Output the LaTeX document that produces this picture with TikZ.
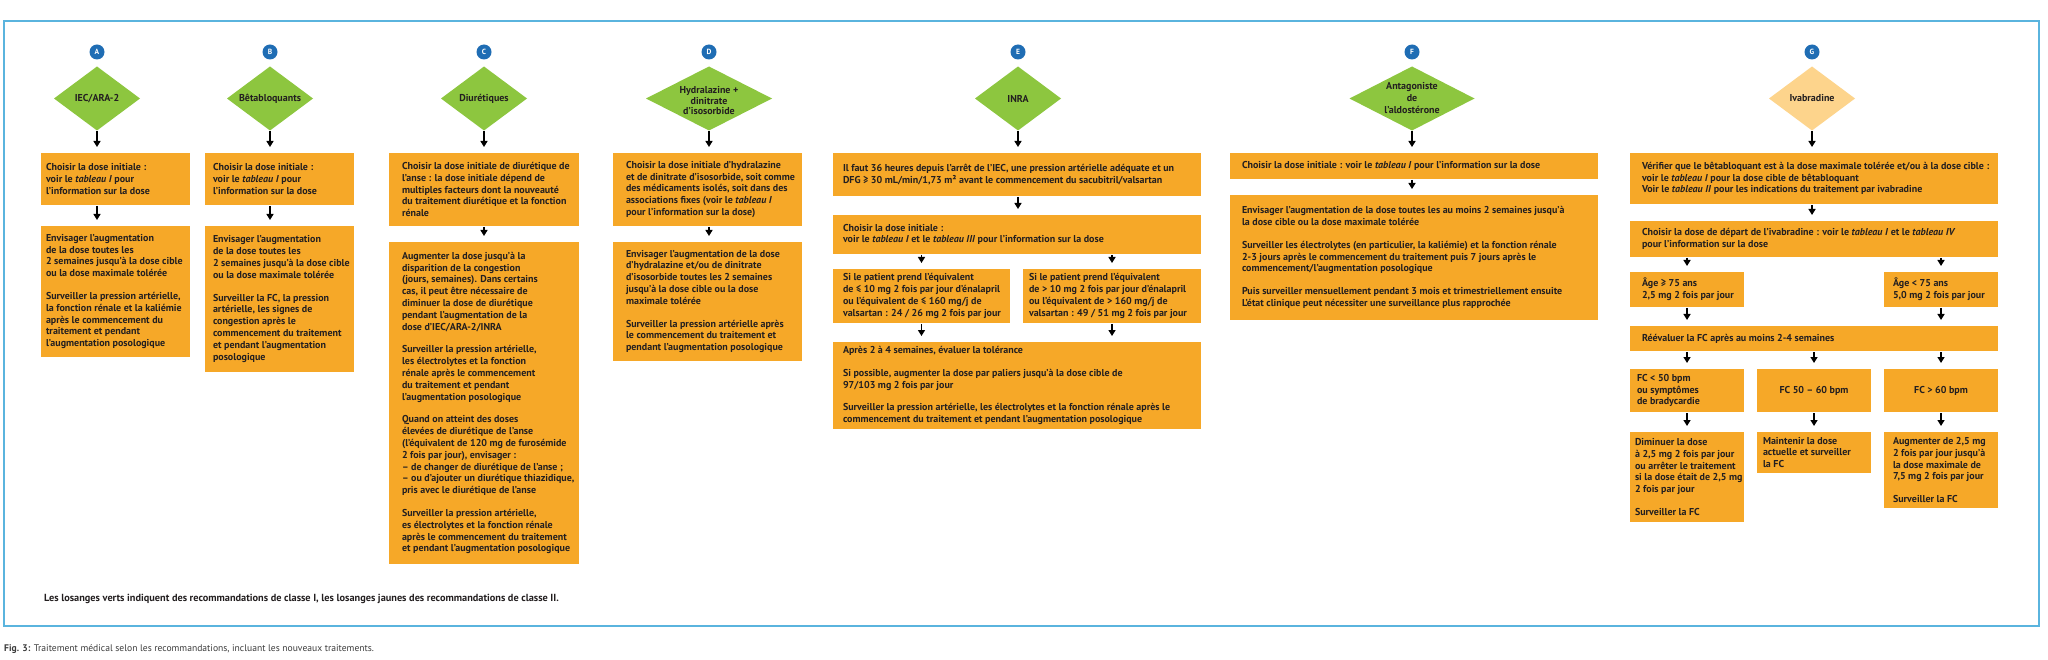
\documentclass[tikz,border=0pt]{standalone}
\usepackage{fontspec}
\setmainfont{PT Sans}
\usetikzlibrary{shapes.geometric,arrows.meta}
\definecolor{boxorange}{HTML}{F6A828}
\definecolor{diagreen}{HTML}{8DC63F}
\definecolor{diayellow}{HTML}{FDD48C}
\definecolor{circblue}{HTML}{1F6DB4}
\definecolor{framblue}{HTML}{5AB4DE}
\definecolor{txtdark}{HTML}{231F20}
\definecolor{capgrey}{HTML}{3C3C3C}
\newcommand{\bodyf}{\bfseries\fontsize{10pt}{11.8pt}\selectfont}
\newcommand{\pgap}{\\[11pt]}
\newcommand{\obox}[7]{%
  \node[obox, minimum width=#4pt, minimum height=#5pt, anchor=north west] (#1) at (#2,#3) {};
  \node[otxt, anchor=west] (#1t) at ([xshift=#6pt]#1.west) {#7};}
\newcommand{\cobox}[6]{%
  \node[obox, minimum width=#4pt, minimum height=#5pt, anchor=north west] (#1) at (#2,#3) {};
  \node[otxt, align=center] (#1t) at (#1.center) {#6};}
\begin{document}
\begin{tikzpicture}[x=1pt,y=-1pt,
  obox/.style={rectangle, fill=boxorange, draw=none, inner sep=0pt, outer sep=0pt},
  otxt/.style={inner sep=0pt, outer sep=0pt, align=left, font=\bodyf, text=txtdark},
  dia/.style={diamond, inner sep=0pt, outer sep=0pt, fill=diagreen, minimum width=86pt, minimum height=64pt},
  dtxt/.style={inner sep=0pt, align=center, font=\bodyf, text=txtdark},
  circ/.style={circle, fill=circblue, minimum size=15pt, inner sep=0pt, text=white, font=\bfseries\fontsize{7.5pt}{8pt}\selectfont},
  arr/.style={draw=black, line width=1.4pt, -{Triangle[width=7pt,length=6pt]}, shorten >=6pt, shorten <=1pt}]
\useasboundingbox (0,0) rectangle (2048,660);
\fill[white] (0,0) rectangle (2048,660);
\draw[framblue, line width=1.5pt] (4,21) rectangle (2039,626);

% ---------- circles and diamonds ----------
\node[circ] (cA) at (97,52) {A};
\node[circ] (cB) at (270,52) {B};
\node[circ] (cC) at (484,52) {C};
\node[circ] (cD) at (709,52) {D};
\node[circ] (cE) at (1018,52) {E};
\node[circ] (cF) at (1412,52) {F};
\node[circ] (cG) at (1812,52) {G};

\node[dia] (dA) at (97,98.5) {};
\node[dtxt] (dAt) at (dA) {IEC/ARA-2};
\node[dia] (dB) at (270,98.5) {};
\node[dtxt] (dBt) at (dB) {Bêtabloquants};
\node[dia] (dC) at (484,98.5) {};
\node[dtxt] (dCt) at (dC) {Diurétiques};
\node[dia, minimum width=126pt] (dD) at (709,98.5) {};
\node[dtxt, font=\bfseries\fontsize{10pt}{10.5pt}\selectfont] (dDt) at (709,101) {Hydralazine +\\dinitrate\\d'isosorbide};
\node[dia] (dE) at (1018,98.5) {};
\node[dtxt] (dEt) at (dE) {INRA};
\node[dia, minimum width=125pt] (dF) at (1412,98.5) {};
\node[dtxt, font=\bfseries\fontsize{10pt}{12pt}\selectfont] (dFt) at (dF) {Antagoniste\\de\\l'aldostérone};
\node[dia, fill=diayellow] (dG) at (1812,98.5) {};
\node[dtxt] (dGt) at (dG) {Ivabradine};

% ---------- column A ----------
\obox{a1}{41}{153}{149}{52}{5}{Choisir la dose initiale :\\voir le \textit{tableau I} pour\\l'information sur la dose}
\obox{a2}{41}{226}{149}{131}{5}{Envisager l'augmentation\\de la dose toutes les\\2 semaines jusqu'à la dose cible\\ou la dose maximale tolérée\pgap Surveiller la pression artérielle,\\la fonction rénale et la kaliémie\\après le commencement du\\traitement et pendant\\l'augmentation posologique}

% ---------- column B ----------
\obox{b1}{205}{153}{149}{52}{8}{Choisir la dose initiale :\\voir le \textit{tableau I} pour\\l'information sur la dose}
\obox{b2}{205}{226}{149}{146}{8}{Envisager l'augmentation\\de la dose toutes les\\2 semaines jusqu'à la dose cible\\ou la dose maximale tolérée\pgap Surveiller la FC, la pression\\artérielle, les signes de\\congestion après le\\commencement du traitement\\et pendant l'augmentation\\posologique}

% ---------- column C ----------
\obox{c1}{389}{153}{190}{73}{13}{Choisir la dose initiale de diurétique de\\l'anse : la dose initiale dépend de\\multiples facteurs dont la nouveauté\\du traitement diurétique et la fonction\\rénale}
\obox{c2}{389}{242}{190}{322}{13}{Augmenter la dose jusqu'à la\\disparition de la congestion\\(jours, semaines). Dans certains\\cas, il peut être nécessaire de\\diminuer la dose de diurétique\\pendant l'augmentation de la\\dose d'IEC/ARA-2/INRA\pgap Surveiller la pression artérielle,\\les électrolytes et la fonction\\rénale après le commencement\\du traitement et pendant\\l'augmentation posologique\pgap Quand on atteint des doses\\élevées de diurétique de l'anse\\(l'équivalent de 120 mg de furosémide\\2 fois par jour), envisager :\\– de changer de diurétique de l'anse ;\\– ou d'ajouter un diurétique thiazidique,\\pris avec le diurétique de l'anse\pgap Surveiller la pression artérielle,\\es électrolytes et la fonction rénale\\après le commencement du traitement\\et pendant l'augmentation posologique}

% ---------- column D ----------
\obox{d1}{613}{153}{189}{73}{13}{Choisir la dose initiale d'hydralazine\\et de dinitrate d'isosorbide, soit comme\\des médicaments isolés, soit dans des\\associations fixes (voir le \textit{tableau I}\\pour l'information sur la dose)}
\obox{d2}{613}{242}{189}{119}{13}{Envisager l'augmentation de la dose\\d'hydralazine et/ou de dinitrate\\d'isosorbide toutes les 2 semaines\\jusqu'à la dose cible ou la dose\\maximale tolérée\pgap Surveiller la pression artérielle après\\le commencement du traitement et\\pendant l'augmentation posologique}

% ---------- column E ----------
\obox{e1}{833}{153}{368}{43}{10}{Il faut 36 heures depuis l'arrêt de l'IEC, une pression artérielle adéquate et un\\DFG ≥ 30 mL/min/1,73 m² avant le commencement du sacubitril/valsartan}
\obox{e2}{833}{215}{368}{39}{10}{Choisir la dose initiale :\\voir le \textit{tableau I} et le \textit{tableau III} pour l'information sur la dose}
\obox{e3a}{833}{269}{177}{54}{10}{Si le patient prend l'équivalent\\de ≤ 10 mg 2 fois par jour d'énalapril\\ou l'équivalent de ≤ 160 mg/j de\\valsartan : 24 / 26 mg 2 fois par jour}
\obox{e3b}{1023}{269}{178}{54}{6}{Si le patient prend l'équivalent\\de > 10 mg 2 fois par jour d'énalapril\\ou l'équivalent de > 160 mg/j de\\valsartan : 49 / 51 mg 2 fois par jour}
\obox{e4}{833}{342}{368}{87}{10}{Après 2 à 4 semaines, évaluer la tolérance\pgap Si possible, augmenter la dose par paliers jusqu'à la dose cible de\\97/103 mg 2 fois par jour\pgap Surveiller la pression artérielle, les électrolytes et la fonction rénale après le\\commencement du traitement et pendant l'augmentation posologique}

% ---------- column F ----------
\obox{f1}{1230}{153}{368}{26}{12}{Choisir la dose initiale : voir le \textit{tableau I} pour l'information sur la dose}
\obox{f2}{1230}{195}{368}{125}{12}{Envisager l'augmentation de la dose toutes les au moins 2 semaines jusqu'à\\la dose cible ou la dose maximale tolérée\pgap Surveiller les électrolytes (en particulier, la kaliémie) et la fonction rénale\\2-3 jours après le commencement du traitement puis 7 jours après le\\commencement/l'augmentation posologique\pgap Puis surveiller mensuellement pendant 3 mois et trimestriellement ensuite\\L'état clinique peut nécessiter une surveillance plus rapprochée}

% ---------- column G ----------
\obox{g1}{1630}{153}{368}{51}{12}{Vérifier que le bêtabloquant est à la dose maximale tolérée et/ou à la dose cible :\\voir le \textit{tableau I} pour la dose cible de bêtabloquant\\Voir le \textit{tableau II} pour les indications du traitement par ivabradine}
\obox{g2}{1630}{221}{368}{36}{12}{Choisir la dose de départ de l'ivabradine : voir le \textit{tableau I} et le \textit{tableau IV}\\pour l'information sur la dose}
\obox{g3a}{1630}{272}{114}{35}{12}{Âge ≥ 75 ans\\2,5 mg 2 fois par jour}
\obox{g3b}{1884}{272}{114}{35}{9}{Âge < 75 ans\\5,0 mg 2 fois par jour}
\obox{g4}{1630}{326}{368}{25}{12}{Réévaluer la FC après au moins 2-4 semaines}
\obox{g5a}{1630}{369}{114}{43}{7}{FC < 50 bpm\\ou symptômes\\de bradycardie}
\cobox{g5b}{1757}{369}{114}{43}{FC 50 – 60 bpm}
\cobox{g5c}{1884}{369}{114}{43}{FC > 60 bpm}
\obox{g6a}{1630}{432}{114}{90}{5}{Diminuer la dose\\à 2,5 mg 2 fois par jour\\ou arrêter le traitement\\si la dose était de 2,5 mg\\2 fois par jour\pgap Surveiller la FC}
\obox{g6b}{1757}{432}{114}{41}{6}{Maintenir la dose\\actuelle et surveiller\\la FC}
\obox{g6c}{1884}{432}{114}{76}{9}{Augmenter de 2,5 mg\\2 fois par jour jusqu'à\\la dose maximale de\\7,5 mg 2 fois par jour\pgap Surveiller la FC}

% ---------- connectors ----------
\draw[arr] (dA.south) -- (dA.south |- a1.north);
\draw[arr] (dA.south |- a1.south) -- (dA.south |- a2.north);
\draw[arr] (dB.south) -- (dB.south |- b1.north);
\draw[arr] (dB.south |- b1.south) -- (dB.south |- b2.north);
\draw[arr] (dC.south) -- (dC.south |- c1.north);
\draw[arr] (dC.south |- c1.south) -- (dC.south |- c2.north);
\draw[arr] (dD.south) -- (dD.south |- d1.north);
\draw[arr] (dD.south |- d1.south) -- (dD.south |- d2.north);
\draw[arr] (dE.south) -- (dE.south |- e1.north);
\draw[arr] (dE.south |- e1.south) -- (dE.south |- e2.north);
\draw[arr] (e3a.north |- e2.south) -- (e3a.north);
\draw[arr] (e3b.north |- e2.south) -- (e3b.north);
\draw[arr] (e3a.south) -- (e3a.south |- e4.north);
\draw[arr] (e3b.south) -- (e3b.south |- e4.north);
\draw[arr] (dF.south) -- (dF.south |- f1.north);
\draw[arr] (dF.south |- f1.south) -- (dF.south |- f2.north);
\draw[arr] (dG.south) -- (dG.south |- g1.north);
\draw[arr] (dG.south |- g1.south) -- (dG.south |- g2.north);
\draw[arr] (g3a.north |- g2.south) -- (g3a.north);
\draw[arr] (g3b.north |- g2.south) -- (g3b.north);
\draw[arr] (g3a.south) -- (g3a.south |- g4.north);
\draw[arr] (g3b.south) -- (g3b.south |- g4.north);
\draw[arr] (g5a.north |- g4.south) -- (g5a.north);
\draw[arr] (g5b.north |- g4.south) -- (g5b.north);
\draw[arr] (g5c.north |- g4.south) -- (g5c.north);
\draw[arr] (g5a.south) -- (g6a.north);
\draw[arr] (g5b.south) -- (g6b.north);
\draw[arr] (g5c.south) -- (g6c.north);

% ---------- legend and caption ----------
\node[anchor=west, inner sep=0pt, text=txtdark, font=\bfseries\fontsize{10.3pt}{11pt}\selectfont] (legend) at (44,599) {Les losanges verts indiquent des recommandations de classe I, les losanges jaunes des recommandations de classe II.};
\node[anchor=west, inner sep=0pt, text=capgrey, font=\fontsize{9.6pt}{11pt}\selectfont] (caption) at (4,649) {\textbf{Fig. 3:} Traitement médical selon les recommandations, incluant les nouveaux traitements.};
\end{tikzpicture}
\end{document}
